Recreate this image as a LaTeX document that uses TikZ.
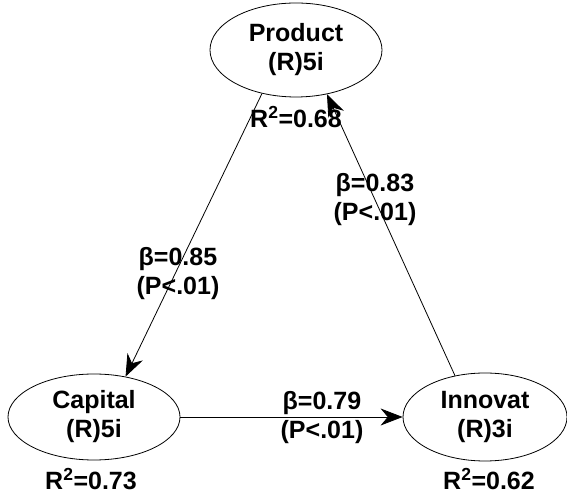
\documentclass[tikz,border=0pt]{standalone}
\usepackage{fontspec}
\setmainfont{Liberation Sans}
\usetikzlibrary{shapes.geometric, arrows.meta}
\tikzset{every picture/.style={line width=0.75pt}}

\begin{document}
\begin{tikzpicture}[x=1pt,y=1pt,
        latent/.style={ellipse, draw, line width=0.8pt, inner sep=0pt, align=center,
            font=\fontsize{25}{29}\selectfont\bfseries},
        lbl/.style={align=center, font=\fontsize{25}{29}\selectfont\bfseries},
        path/.style={-{Stealth[length=22pt,width=17pt]}, line width=0.8pt}]
        \useasboundingbox (0,0) rectangle (567,497);
        \node[latent, minimum width=172pt, minimum height=94pt] (prod) at (296,447) {Product\\(R)5i};
        \node[latent, minimum width=172pt, minimum height=86pt] (cap) at (94,80) {Capital\\(R)5i};
        \node[latent, minimum width=164pt, minimum height=88pt] (inn) at (485,80) {Innovat\\(R)3i};
        \node[lbl] (rprod) at (296,380) {R\textsuperscript{2}=0.68};
        \node[lbl] (rcap) at (91,18) {R\textsuperscript{2}=0.73};
        \node[lbl] (rinn) at (489,18) {R\textsuperscript{2}=0.62};
        \node[lbl] (bpc) at (178,223) {β=0.85\\(P<.01)};
        \node[lbl] (bip) at (375,297) {β=0.83\\(P<.01)};
        \node[lbl] (bci) at (322,79) {β=0.79\\(P<.01)};

        \draw
            (prod.232) edge[path] (cap.52)
            (inn.126) edge[path] (prod.305)
            (cap.east) edge[path] (inn.west)
            ;
    \end{tikzpicture}
\end{document}
